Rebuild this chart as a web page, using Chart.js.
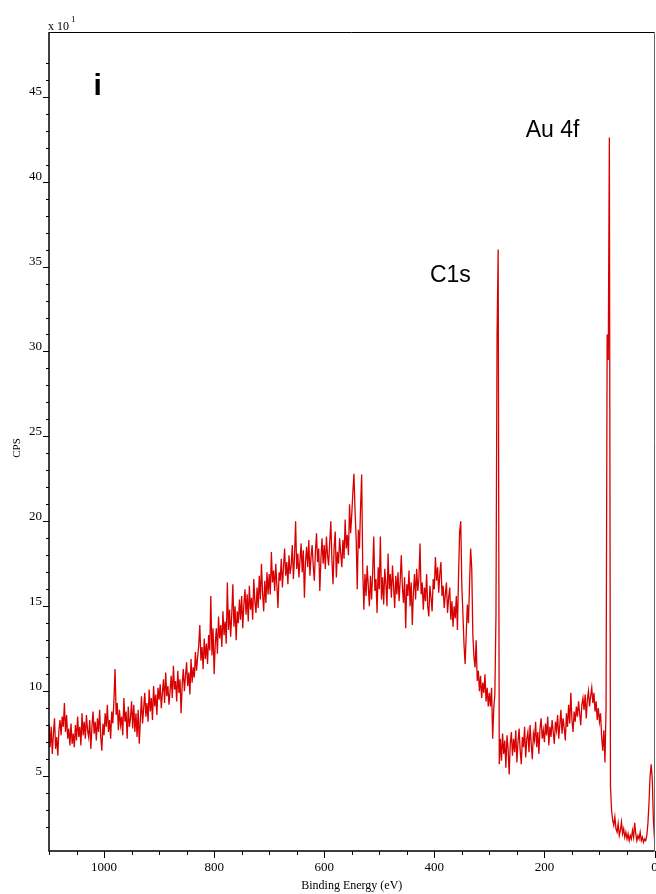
<!DOCTYPE html>
<html>
<head>
<meta charset="utf-8">
<script src="https://cdn.jsdelivr.net/npm/chart.js@4.4.1/dist/chart.umd.min.js"></script>
<style>
  html, body { margin: 0; padding: 0; background: #fff; }
  canvas { display: block; }
</style>
</head>
<body>
<canvas id="xps" width="656" height="894"></canvas>
<script>
// XPS survey, counts in units of 10 CPS, binding energy sampled every 2 eV
const E_STEP = 2;

const cps1100 = [
  8.1, 6.7, 7.9, 6.3, 7.5, 8.4, 6.6, 7.3, 6.2, 7.7,
  8.3, 7.4, 8.5, 7.9, 9.3, 7.6, 8.6, 7.2, 7.8, 6.8,
  8.1, 6.9, 7.5, 6.7, 8.0, 7.1, 8.5, 7.3, 7.9, 6.8,
  8.7, 7.4, 8.2, 7.2, 8.6, 7.7, 7.3, 8.3, 6.6, 7.9,
  8.8, 7.5, 8.2, 7.1, 8.4, 7.6, 8.9, 7.3, 6.5, 8.1
];
const cps1000 = [
  7.4, 8.7, 7.9, 9.2, 7.6, 8.3, 7.2, 8.8, 8.1, 9.5,
  11.3, 8.6, 9.3, 7.7, 8.9, 8.0, 8.5, 7.4, 9.6, 8.2,
  8.8, 7.2, 9.1, 7.9, 8.4, 9.4, 7.8, 9.2, 7.6, 8.7,
  7.3, 8.9, 6.9, 8.3, 9.7, 8.1, 9.0, 9.9, 8.5, 9.3,
  8.2, 10.1, 8.8, 9.6, 8.3, 10.3, 9.1, 9.8, 8.6, 10.2
];
const cps900 = [
  9.5, 10.4, 9.0, 9.9, 10.7, 9.3, 11.1, 9.7, 10.3, 9.2,
  10.0, 10.9, 9.6, 11.5, 10.1, 10.6, 9.4, 11.2, 9.9, 10.7,
  8.7, 10.4, 11.3, 10.0, 10.9, 11.7, 10.3, 11.1, 9.8, 11.9,
  10.5, 11.4, 10.8, 12.3, 11.2, 12.0, 12.7, 13.9, 11.8, 12.6,
  11.3, 13.1, 11.9, 12.8, 11.6, 13.3, 12.4, 15.6, 12.1, 13.7
];
const cps800 = [
  11.0, 12.8, 13.7, 12.2, 14.4, 13.1, 13.9, 12.6, 14.7, 13.3,
  14.1, 12.8, 16.4, 13.6, 14.8, 13.2, 14.5, 16.3, 13.8, 15.0,
  13.0, 14.7, 14.0, 15.4, 14.2, 15.6, 13.7, 15.1, 16.0, 14.5,
  15.7, 14.1, 16.2, 14.8, 15.5, 14.2, 16.6, 15.3, 14.6, 16.1,
  14.9, 16.8, 15.4, 17.5, 15.8, 14.7, 16.5, 15.2, 17.0, 15.7
];
const cps700 = [
  16.9, 15.7, 18.2, 16.4, 17.1, 15.9, 17.5, 16.2, 14.9, 17.0,
  16.5, 17.8, 16.1, 17.3, 18.4, 16.8, 17.6, 16.3, 18.0, 16.9,
  17.4, 18.6, 16.6, 17.9, 20.0, 17.2, 18.1, 16.7, 17.7, 18.7,
  17.0, 18.3, 15.5, 17.6, 18.5, 17.3, 18.9, 16.8, 17.9, 18.6,
  17.4, 16.5, 18.2, 19.3, 17.6, 18.4, 15.9, 17.8, 19.0, 17.5
];
const cps600 = [
  18.6, 17.2, 19.1, 18.0, 17.4, 18.8, 20.0, 17.7, 16.3, 18.5,
  19.4, 16.7, 18.2, 17.5, 19.0, 18.1, 17.3, 18.9, 17.8, 20.1,
  18.4, 19.2, 18.0, 21.0, 19.3, 20.4, 21.7, 22.8, 20.6, 19.0,
  16.0, 19.5, 18.4, 20.8, 22.75, 17.2, 14.8, 16.9, 15.6, 17.4,
  16.2, 15.0, 16.8, 15.4, 17.0, 19.1, 15.9, 16.6, 14.6, 17.3
];
const cps500 = [
  16.0, 19.1, 15.4, 16.7, 15.1, 17.2, 16.3, 15.0, 18.1, 16.0,
  16.9, 15.5, 17.4, 16.2, 14.9, 16.8, 15.7, 17.0, 15.3, 16.5,
  18.0, 16.1, 15.2, 16.7, 13.7, 16.3, 15.6, 17.1, 15.0, 16.4,
  13.9, 15.8, 16.9, 15.4, 17.2, 15.9, 16.6, 18.7, 15.7, 16.4,
  14.8, 16.1, 15.3, 16.9, 15.0, 14.4, 16.2, 15.5, 14.7, 16.6
];
const cps400 = [
  16.0, 17.9, 16.5, 17.3, 15.8, 16.9, 17.6, 15.6, 16.2, 14.9,
  15.7, 16.4, 14.6, 15.5, 16.1, 14.2, 15.3, 13.8, 15.0, 14.3,
  15.6, 13.6, 16.8, 19.4, 20.0, 16.2, 14.5, 12.7, 11.6, 13.4,
  15.1, 14.0, 16.3, 18.4, 17.2, 13.3, 12.0, 11.4, 13.0, 10.6,
  11.2, 10.0, 10.9, 9.6, 10.5, 9.9, 11.0, 9.4, 10.2, 9.1
];
const cps300 = [
  9.9, 9.1, 10.2, 7.2, 9.0, 9.8, 14.5, 31.0, 36.0, 5.7,
  7.2, 5.9, 7.5, 6.3, 7.1, 5.5, 7.4, 6.6, 5.1, 6.9,
  7.6, 6.2, 7.2, 6.4, 7.7, 5.8, 7.0, 7.8, 6.5, 5.7,
  7.3, 6.7, 7.9, 6.1, 7.2, 7.6, 6.4, 8.0, 6.9, 6.0,
  7.5, 7.1, 8.2, 6.7, 7.6, 6.3, 7.8, 8.4, 7.2, 7.7
];
const cps200 = [
  7.0, 8.1, 7.4, 8.5, 6.8, 7.9, 7.3, 8.3, 7.6, 6.9,
  8.2, 7.7, 8.6, 7.2, 8.0, 8.9, 7.5, 8.4, 7.8, 7.1,
  8.7, 7.9, 9.2, 8.1, 9.9, 8.3, 7.6, 8.8, 8.2, 9.1,
  8.5, 9.4, 8.7, 8.0, 9.2, 9.6, 8.9, 9.8, 8.4, 9.5,
  10.0, 9.1, 9.7, 10.2, 9.3, 9.9, 8.8, 9.4, 8.3, 9.0
];
const cps100 = [
  8.2, 8.7, 7.3, 6.5, 7.7, 5.8, 9.0, 31.0, 29.5, 42.6,
  4.4, 3.0, 2.4, 2.1, 2.6, 1.9, 1.7, 2.2, 1.5, 1.8,
  2.3, 1.6, 1.9, 1.4, 1.7, 1.3, 1.6, 1.2, 1.5, 1.3,
  1.8, 1.4, 2.25, 1.6, 1.2, 1.5, 1.3, 1.7, 1.2, 1.4,
  1.1, 1.3, 1.2, 1.5, 2.2, 3.4, 5.0, 5.7, 4.8, 2.4,
  1.3
];

const segments = [
  [1100, cps1100], [1000, cps1000], [900, cps900], [800, cps800],
  [700, cps700], [600, cps600], [500, cps500], [400, cps400],
  [300, cps300], [200, cps200], [100, cps100]
];

const peakLabels = [
  { text: 'C1s',   energy: 408, cps: 34.1 },
  { text: 'Au 4f', energy: 234, cps: 42.6 }
];

const points = [];
segments.forEach(([start, counts]) => {
  counts.forEach((c, i) => points.push({ x: start - i * E_STEP, y: c }));
});

const SERIF = '"Liberation Serif", "Times New Roman", serif';
const SANS = '"Liberation Sans", Arial, sans-serif';

// tick marks, frame and the loose texts round the plot
const axisFrame = {
  id: 'axisFrame',
  afterDraw(chart) {
    const { ctx, chartArea: area, scales } = chart;
    const xs = scales.x, ys = scales.y;
    ctx.save();

    ctx.strokeStyle = '#000';
    ctx.lineWidth = 1;
    ctx.beginPath();
    xs.ticks.forEach(t => {
      const px = Math.round(xs.getPixelForValue(t.value)) + 0.5;
      const len = t.value % 200 === 0 ? 7 : 4;
      ctx.moveTo(px, area.bottom);
      ctx.lineTo(px, area.bottom + len);
    });
    ys.ticks.forEach(t => {
      if (!Number.isInteger(t.value)) return;
      const py = Math.round(ys.getPixelForValue(t.value)) + 0.5;
      const len = t.value % 5 === 0 ? 6 : 3;
      ctx.moveTo(area.left - len, py);
      ctx.lineTo(area.left, py);
    });
    ctx.stroke();

    // top and right edges
    ctx.beginPath();
    ctx.moveTo(area.left, area.top + 0.5);
    ctx.lineTo(area.right, area.top + 0.5);
    ctx.stroke();
    ctx.strokeStyle = '#666';
    ctx.beginPath();
    ctx.moveTo(area.right, area.top);
    ctx.lineTo(area.right, area.bottom);
    ctx.stroke();

    // axis lines
    ctx.strokeStyle = '#000';
    ctx.lineWidth = 1.5;
    ctx.beginPath();
    ctx.moveTo(area.left, area.top);
    ctx.lineTo(area.left, area.bottom);
    ctx.lineTo(area.right, area.bottom);
    ctx.stroke();

    ctx.fillStyle = '#000';
    ctx.textAlign = 'left';
    ctx.textBaseline = 'alphabetic';
    ctx.font = '12px ' + SERIF;
    ctx.fillText('x 10', area.left - 1, area.top - 2);
    const w = ctx.measureText('x 10').width;
    ctx.font = '9px ' + SERIF;
    ctx.fillText('1', area.left + w + 1, area.top - 10);

    ctx.save();
    ctx.translate(17, 448);
    ctx.rotate(-Math.PI / 2);
    ctx.textAlign = 'center';
    ctx.textBaseline = 'middle';
    ctx.font = '11px ' + SERIF;
    ctx.fillText('CPS', 0, 0);
    ctx.restore();

    ctx.font = 'bold 30px ' + SANS;
    ctx.fillText('i', xs.getPixelForValue(1019), ys.getPixelForValue(45.1));

    ctx.font = '23px ' + SANS;
    peakLabels.forEach(l => {
      ctx.fillText(l.text, xs.getPixelForValue(l.energy), ys.getPixelForValue(l.cps));
    });

    ctx.restore();
  }
};

new Chart(document.getElementById('xps'), {
  type: 'line',
  data: {
    datasets: [{
      data: points,
      borderColor: '#d80000',
      borderWidth: 1.3,
      pointRadius: 0,
      tension: 0,
      fill: false
    }]
  },
  options: {
    responsive: false,
    animation: false,
    devicePixelRatio: 1,
    layout: { padding: { top: 32, right: 1.5, bottom: 0, left: 0 } },
    plugins: {
      legend: { display: false },
      tooltip: { enabled: false }
    },
    scales: {
      x: {
        type: 'linear',
        reverse: true,
        min: 0,
        max: 1100,
        grid: { display: false, drawTicks: false },
        border: { display: false },
        ticks: {
          stepSize: 50,
          maxTicksLimit: 100,
          autoSkip: false,
          maxRotation: 0,
          padding: 9,
          color: '#000',
          font: { family: SERIF, size: 13 },
          callback: v => (v % 200 === 0 ? String(v) : '')
        },
        title: {
          display: true,
          text: 'Binding Energy (eV)',
          color: '#000',
          font: { family: SERIF, size: 12 },
          padding: { top: 0, bottom: 1 }
        },
        afterFit(scale) {
          scale.height = 43;
          scale.paddingLeft = 0;
          scale.paddingRight = 0;
        }
      },
      y: {
        type: 'linear',
        min: 0.59,
        max: 48.81,
        grid: { display: false, drawTicks: false },
        border: { display: false },
        ticks: {
          stepSize: 1,
          maxTicksLimit: 100,
          autoSkip: false,
          padding: 7,
          labelOffset: -5,
          color: '#000',
          font: { family: SERIF, size: 13 },
          callback: v => (Number.isInteger(v) && v % 5 === 0 ? String(v) : '')
        },
        afterFit(scale) {
          scale.width = 49;
          scale.paddingTop = 0;
          scale.paddingBottom = 0;
        }
      }
    }
  },
  plugins: [axisFrame]
});
</script>
</body>
</html>
